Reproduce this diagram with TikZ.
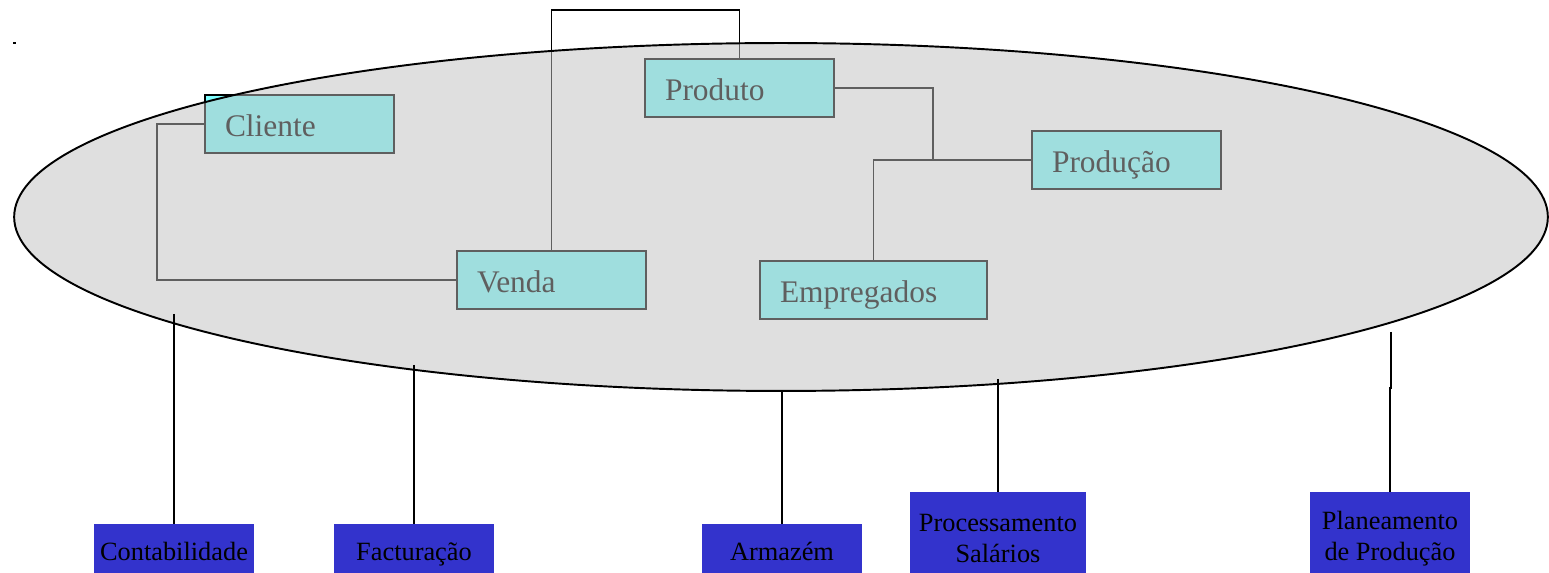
\documentclass[tikz,border=0pt]{standalone}
\usepackage{fontspec}
\setmainfont{Liberation Serif}
\definecolor{boxcyan}{RGB}{128,255,255}
\definecolor{ovl}{RGB}{191,191,191}
\definecolor{modblue}{RGB}{51,51,204}
\begin{document}
\begin{tikzpicture}[x=0.02cm,y=-0.02cm,
  entity/.style={draw=black,line width=1.1pt,fill=boxcyan,minimum height=1.16cm,
    inner xsep=0.4cm,inner ysep=0pt,align=left,text height=17.8pt,text depth=3pt,
    font=\fontsize{17.9}{20}\selectfont,text=black},
  module/.style={fill=modblue,inner sep=0pt,align=center,font=\fontsize{15}{17.6}\selectfont,text=black},
  onemod/.style={module,minimum width=3.2cm,minimum height=1.12cm,anchor=north,text height=12pt,text depth=3pt},
  link/.style={draw=black,line width=1.1pt},
  wire/.style={draw=black,line width=1.1pt}]
\useasboundingbox (0,0) rectangle (1549,573);
% small mark
\fill (13,42) rectangle (16,44.5);
% entity boxes
\node[entity,text width=2.98cm] (cli) at (299.5,124) {Cliente};
\node[entity,text width=2.98cm] (prod) at (739.5,88) {Produto};
\node[entity,text width=2.98cm] (prdc) at (1126.5,160) {Produção};
\node[entity,text width=2.98cm] (ven) at (551.5,280) {Venda};
\node[entity,text width=3.74cm] (emp) at (873.5,290) {Empregados};
% connectors between entities
\coordinate (lc) at (157,124);
\coordinate (top) at (551.5,10);
\coordinate (j) at (933,160);
\draw[link] (cli.west) -- (lc) |- (ven.west);
\draw[link] (ven.north) -- (top) -| (prod.north);
\draw[link] (prod.east) -| (j) -- (prdc.west);
\draw[link] (j) -| (emp.north);
% translucent database ellipse
\fill[ovl,fill opacity=0.5] (781,217) ellipse [x radius=15.34cm, y radius=3.48cm];
\draw[black,line width=1.1pt] (781,217) ellipse [x radius=15.34cm, y radius=3.48cm];
% modules
\node[onemod] (cont) at (174,524) {Contabilidade};
\node[onemod] (fact) at (414,524) {Facturação};
\node[onemod] (arm) at (782,524) {Armazém};
\node[module,minimum width=3.52cm,minimum height=1.85cm,anchor=north] (proc) at (998,492) {Processamento\\Salários};
\node[module,minimum width=3.2cm,minimum height=1.85cm,anchor=north] (plan) at (1390,492) {Planeamento\\de Produção};
\coordinate (e1) at (174,314);
\coordinate (e2) at (414,365);
\coordinate (e3) at (782,391);
\coordinate (e4) at (998,379);
\coordinate (e5) at (1391,332);
\coordinate (e5b) at (1391,388);
\draw[wire] (e1) -- (cont.north);
\draw[wire] (e2) -- (fact.north);
\draw[wire] (e3) -- (arm.north);
\draw[wire] (e4) -- (proc.north);
\draw[wire] (e5) -- (e5b) -- (1390,388) -- (plan.north);
\end{tikzpicture}
\end{document}
